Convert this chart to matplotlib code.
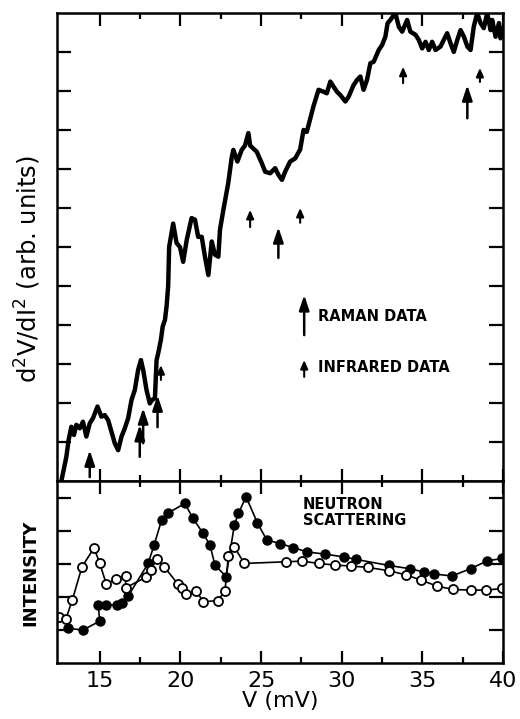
import matplotlib
matplotlib.use("Agg")
import matplotlib.pyplot as plt

# top panel: d2V/dI2 trace (V in mV, arb. units)
v_top = [12.62, 12.72, 12.93, 13.07, 13.24, 13.40, 13.55, 13.76, 13.96, 14.17,
         14.38, 14.58, 14.86, 15.10, 15.31, 15.52, 15.73, 15.93, 16.14, 16.35,
         16.55, 16.76, 16.97, 17.17, 17.38, 17.55, 17.69, 17.90, 18.10, 18.25,
         18.42, 18.52, 18.62, 18.79, 18.90, 19.04, 19.14, 19.24, 19.30, 19.55,
         19.76, 19.97, 20.17, 20.39, 20.69, 20.90, 21.10, 21.32, 21.52, 21.73,
         21.94, 22.14, 22.35, 22.45, 22.66, 22.96, 23.18, 23.28, 23.53, 23.80,
         24.00, 24.21, 24.32, 24.73, 25.04, 25.25, 25.56, 25.87, 26.07, 26.29,
         26.49, 26.80, 27.11, 27.42, 27.63, 27.83, 28.24, 28.56, 28.87, 29.07,
         29.29, 29.49, 29.70, 29.90, 30.22, 30.42, 30.73, 30.94, 31.15, 31.35,
         31.56, 31.77, 31.98, 32.29, 32.50, 32.70, 32.84, 33.01, 33.32, 33.53,
         33.74, 34.05, 34.25, 34.57, 34.77, 34.98, 35.19, 35.39, 35.60, 35.81,
         36.12, 36.32, 36.53, 36.74, 36.94, 37.16, 37.36, 37.57, 37.78, 37.98,
         38.18, 38.39, 38.60, 38.80, 39.01, 39.22, 39.32, 39.53, 39.74, 39.84,
         40.00]
d2v_top = [0.00, 0.20, 0.62, 1.05, 1.39, 1.18, 1.44, 1.35, 1.52, 1.14,
           1.48, 1.61, 1.91, 1.65, 1.69, 1.56, 1.26, 0.97, 0.79, 1.14,
           1.35, 1.61, 2.08, 2.33, 2.85, 3.10, 2.85, 2.33, 1.99, 2.08,
           2.12, 3.10, 3.27, 3.62, 3.96, 4.13, 4.47, 5.00, 6.00, 6.60,
           6.10, 6.00, 5.62, 6.18, 6.74, 6.70, 6.26, 6.26, 5.75, 5.28,
           6.14, 5.80, 5.75, 6.44, 6.95, 7.63, 8.30, 8.49, 8.19, 8.49,
           8.60, 8.92, 8.60, 8.44, 8.15, 7.93, 7.89, 8.02, 7.85, 7.72,
           7.93, 8.19, 8.27, 8.50, 9.00, 8.95, 9.60, 10.03, 9.98, 9.94,
           10.24, 10.11, 9.98, 9.90, 9.73, 9.85, 10.15, 10.28, 10.37, 10.03,
           10.28, 10.71, 10.75, 11.05, 11.18, 11.39, 11.74, 11.82, 12.00, 11.65,
           11.52, 11.82, 11.52, 11.44, 11.31, 11.09, 11.26, 11.05, 11.26, 11.05,
           11.14, 11.31, 11.48, 11.22, 11.00, 11.31, 11.56, 11.39, 11.14, 11.05,
           11.65, 12.00, 11.74, 11.61, 12.00, 11.56, 11.82, 11.39, 11.74, 11.35,
           11.60]

# arrows: position, tip and tail height
raman_v = [14.38, 17.48, 17.69, 18.58, 26.07, 37.78]
raman_tip = [0.79, 1.44, 1.87, 2.20, 6.51, 10.15]
raman_tail = [0.10, 0.62, 0.97, 1.38, 5.72, 9.30]
ir_v = [18.79, 24.32, 27.42, 33.80, 38.56]
ir_tip = [2.97, 6.95, 7.00, 10.62, 10.59]
ir_tail = [2.59, 6.51, 6.62, 10.20, 10.23]

# bottom panel: neutron scattering intensity
v_filled = [13.03, 13.96, 15.00, 14.90, 15.41, 16.07, 16.35, 16.76, 18.00, 18.37,
            18.83, 19.20, 20.28, 20.76, 21.38, 21.83, 22.14, 22.83, 23.34, 23.59,
            24.07, 24.77, 25.35, 26.20, 27.00, 27.84, 28.98, 30.11, 30.90, 32.91,
            34.21, 35.08, 35.70, 36.84, 37.98, 39.02, 39.95]
int_filled = [1.05, 1.00, 1.27, 1.76, 1.76, 1.76, 1.83, 2.03, 3.02, 3.58,
              4.33, 4.54, 4.84, 4.40, 3.95, 3.58, 2.97, 2.62, 4.18, 4.54,
              5.04, 4.25, 3.73, 3.62, 3.50, 3.37, 3.30, 3.22, 3.14, 2.96,
              2.86, 2.76, 2.70, 2.64, 2.86, 3.10, 3.17]
v_open = [12.47, 12.89, 13.30, 13.90, 14.65, 15.00, 15.41, 15.99, 16.60, 16.60,
          17.86, 18.17, 18.52, 18.99, 19.82, 20.07, 20.32, 20.96, 21.42, 22.31,
          22.76, 22.97, 23.34, 23.96, 26.55, 27.53, 28.56, 29.60, 30.57, 31.60,
          32.91, 34.00, 34.88, 35.91, 36.91, 38.00, 38.93, 39.95]
int_open = [1.38, 1.32, 1.91, 2.92, 3.49, 3.02, 2.39, 2.55, 2.64, 2.28,
            2.60, 2.82, 3.15, 2.92, 2.41, 2.26, 2.08, 2.19, 1.86, 1.89,
            2.19, 3.24, 3.52, 3.02, 3.07, 3.09, 3.02, 2.97, 2.94, 2.90,
            2.80, 2.67, 2.52, 2.33, 2.23, 2.21, 2.21, 2.26]

x_major = [15, 20, 25, 30, 35, 40]
x_minor = [17.5, 22.5, 27.5, 32.5, 37.5]

big_arrow = dict(arrowstyle='-|>,head_length=0.9,head_width=0.3', lw=1.8,
                 color='black', mutation_scale=10, shrinkA=0, shrinkB=0)
small_arrow = dict(arrowstyle='-|>,head_length=0.5,head_width=0.22', lw=1.5,
                   color='black', mutation_scale=10, shrinkA=0, shrinkB=0)

fig = plt.figure(figsize=(5.2, 7.19), dpi=100)
ax1 = fig.add_axes([0.1096, 0.331, 0.858, 0.651])
ax2 = fig.add_axes([0.1096, 0.0779, 0.858, 0.2531])

for ax in (ax1, ax2):
    ax.set_xlim(12.35, 40)
    ax.set_xticks(x_major)
    ax.set_xticks(x_minor, minor=True)
    ax.tick_params(which='both', direction='in', top=True, right=True,
                   width=1.6, labelsize=16)
    ax.tick_params(which='major', length=9)
    ax.tick_params(which='minor', length=4.5)
    for s in ax.spines.values():
        s.set_linewidth(1.8)

# top panel
ax1.plot(v_top, d2v_top, color='black', lw=3.2, solid_joinstyle='round')
ax1.set_ylim(0, 12)
ax1.set_yticks(range(1, 12))
ax1.tick_params(axis='y', length=10)
ax1.tick_params(labelbottom=False, labelleft=False)

for v, tip, tail in zip(raman_v, raman_tip, raman_tail):
    ax1.annotate('', xy=(v, tip), xytext=(v, tail), arrowprops=big_arrow)
for v, tip, tail in zip(ir_v, ir_tip, ir_tail):
    ax1.annotate('', xy=(v, tip), xytext=(v, tail), arrowprops=small_arrow)

# legend for the arrows
ax1.annotate('', xy=(27.67, 4.77), xytext=(27.67, 3.74), arrowprops=big_arrow)
ax1.annotate('', xy=(27.67, 3.10), xytext=(27.67, 2.67), arrowprops=small_arrow)
ax1.text(28.5, 4.23, 'RAMAN DATA', fontsize=10.5, fontweight='bold',
         va='center', ha='left')
ax1.text(28.5, 2.92, 'INFRARED DATA', fontsize=10.5, fontweight='bold',
         va='center', ha='left')

# bottom panel
ax2.plot(v_filled, int_filled, color='black', lw=1.2, marker='o', ms=6.5,
         mfc='black', mec='black')
ax2.plot(v_open, int_open, color='black', lw=1.2, marker='o', ms=6.5,
         mfc='white', mec='black', mew=1.3)
ax2.set_ylim(0, 5.52)
ax2.set_yticks(range(1, 6))
ax2.tick_params(axis='y', length=10)
ax2.tick_params(labelleft=False, pad=6)
ax2.text(27.6, 4.56, 'NEUTRON\nSCATTERING', fontsize=10.5, fontweight='bold',
         va='center', ha='left', linespacing=1.05)
ax2.set_xlabel('V (mV)', fontsize=16, labelpad=0)

fig.text(0.054, 0.626, r'd$^2$V/dI$^2$ (arb. units)', rotation=90,
         fontsize=17.5, ha='center', va='center')
fig.text(0.058, 0.203, 'INTENSITY', rotation=90, fontsize=13,
         fontweight='bold', ha='center', va='center')

fig.savefig('out.png', dpi=100)
